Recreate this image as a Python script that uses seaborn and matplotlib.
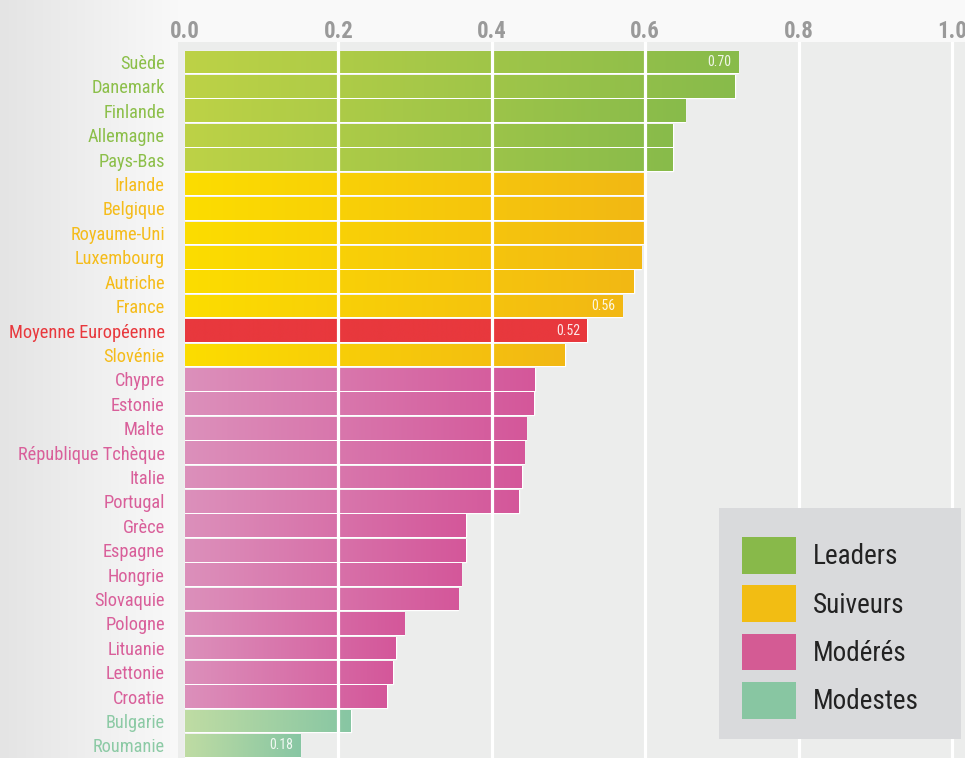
import numpy as np
import pandas as pd
import seaborn as sns
import matplotlib
matplotlib.use("Agg")
import matplotlib.pyplot as plt
from matplotlib import font_manager as fm
from matplotlib.colors import to_rgb
from matplotlib.patches import Patch, Rectangle

# ---------------- data ----------------
countries = ["Suède", "Danemark", "Finlande", "Allemagne", "Pays-Bas", "Irlande",
             "Belgique", "Royaume-Uni", "Luxembourg", "Autriche", "France",
             "Moyenne Européenne", "Slovénie", "Chypre", "Estonie", "Malte",
             "République Tchèque", "Italie", "Portugal", "Grèce", "Espagne",
             "Hongrie", "Slovaquie", "Pologne", "Lituanie", "Lettonie", "Croatie",
             "Bulgarie", "Roumanie"]
scores = [0.721, 0.717, 0.652, 0.636, 0.636, 0.598, 0.598, 0.598, 0.595, 0.585,
          0.570, 0.524, 0.495, 0.456, 0.455, 0.445, 0.442, 0.439, 0.435, 0.366,
          0.366, 0.360, 0.356, 0.286, 0.275, 0.271, 0.263, 0.216, 0.150]
groups = ["Leaders"] * 5 + ["Suiveurs"] * 6 + ["Moyenne"] + ["Suiveurs"] + \
         ["Modérés"] * 14 + ["Modestes"] * 2
value_labels = ["0.70"] + [""] * 9 + ["0.56", "0.52"] + [""] * 16 + ["0.18"]
legend_groups = ["Leaders", "Suiveurs", "Modérés", "Modestes"]
x_ticks = [0.0, 0.2, 0.4, 0.6, 0.8, 1.0]

# ---------------- style ----------------
legend_colors = {"Leaders": "#88b94a", "Suiveurs": "#f2bd13",
                 "Modérés": "#d45b94", "Modestes": "#88c6a2", "Moyenne": "#e8383d"}
grad_colors = {"Leaders": ("#bdd246", "#88bb4b"),
               "Suiveurs": ("#fcdd00", "#f2b814"),
               "Modérés": ("#dc90bb", "#d4579a"),
               "Modestes": ("#bfdca3", "#87c6a3"),
               "Moyenne": ("#e8383d", "#e8383d")}
label_colors = {"Leaders": "#8cbf4a", "Suiveurs": "#f5bc1a", "Modérés": "#d95f9a",
                "Modestes": "#8ccaa5", "Moyenne": "#e8383d"}

names = {f.name for f in fm.fontManager.ttflist}
if "Liberation Sans Narrow" in names:
    FAM = ["Liberation Sans Narrow", "DejaVu Sans"]
    STRETCH = "normal"
elif "Roboto Condensed" in names:
    FAM = ["Roboto Condensed", "DejaVu Sans"]
    STRETCH = "normal"
else:
    FAM = ["DejaVu Sans"]
    STRETCH = "condensed"

sns.set_theme(style="white")
plt.rcParams["font.family"] = FAM
plt.rcParams["font.stretch"] = STRETCH

W, H = 965, 758
fig = plt.figure(figsize=(W / 100, H / 100), dpi=100)

# background gradient (left label area)
bg = fig.add_axes([0, 0, 1, 1], zorder=-10)
cols = np.arange(W)
t = np.clip(cols / 178.0, 0, 1)
c0, c1 = np.array(to_rgb("#e4e4e4")), np.array(to_rgb("#f9f9f9"))
row = c0[None, :] * (1 - t[:, None]) + c1[None, :] * t[:, None]
bg.imshow(row[None, :, :], aspect="auto", extent=(0, 1, 0, 1))
bg.set_axis_off()

# main axes
ax_left, ax_top = 178, 42
ax = fig.add_axes([ax_left / W, 0, 1 - ax_left / W, 1 - ax_top / H])
ax.set_facecolor("#ecedec")

df = pd.DataFrame({"pays": countries, "score": scores, "groupe": groups})
sns.barplot(data=df, x="score", y="pays", hue="groupe",
            palette={g: grad_colors[g][1] for g in grad_colors},
            dodge=False, width=0.93, orient="h", legend=False, ax=ax,
            order=countries)

# per-bar horizontal gradient
for p in list(ax.patches):
    w = p.get_width()
    if not np.isfinite(w) or w <= 0:
        continue
    yc = p.get_y() + p.get_height() / 2
    i = int(round(yc))
    g = groups[i]
    a, b = np.array(to_rgb(grad_colors[g][0])), np.array(to_rgb(grad_colors[g][1]))
    tt = np.linspace(0, 1, 256)[:, None]
    img = (a * (1 - tt) + b * tt)[None, :, :]
    im = ax.imshow(img, aspect="auto", interpolation="bilinear",
                   extent=(p.get_x(), p.get_x() + w, p.get_y() + p.get_height(), p.get_y()),
                   zorder=2.2)
    im.set_clip_path(p)

# value labels
for i, (s, lab) in enumerate(zip(scores, value_labels)):
    if lab:
        ax.text(s - 0.009, i, lab, ha="right", va="center", color="white",
                alpha=0.88, fontsize=10, zorder=4)

# white gridlines on top
ax.vlines([v for v in x_ticks if v > 0], -1, len(countries) + 1,
          colors="white", linewidth=2.3, zorder=3)

scale = 767.0
ax.set_xlim(-7 / scale, (W - 185) / scale)
pitch = 24.4
ax.set_ylim(28 + (758 - 745.5) / pitch, -(62 - 42) / pitch)

ax.xaxis.tick_top()
ax.set_xticks(x_ticks)
ax.set_xticklabels([f"{v:.1f}" for v in x_ticks], color="#9a9a9a",
                   fontweight="bold", fontsize=16.5)
ax.tick_params(axis="x", length=0, pad=-0.5)
ax.tick_params(axis="y", length=0, pad=9.5)
ax.set_xlabel("")
ax.set_ylabel("")
for lab, g in zip(ax.get_yticklabels(), groups):
    lab.set_color(label_colors[g])
    lab.set_fontsize(13.2)
for sp in ax.spines.values():
    sp.set_visible(False)
ax.grid(False)

# legend box
aw, ah = W - ax_left, H - ax_top
ax.add_patch(Rectangle(((719 - ax_left) / aw, (758 - 739) / ah), 242 / aw, 231 / ah,
                       transform=ax.transAxes, facecolor="#d9dadc",
                       edgecolor="none", zorder=5))
handles = [Patch(facecolor=legend_colors[g], edgecolor="none", label=g)
           for g in legend_groups]
leg = ax.legend(handles=handles, loc="upper left",
                bbox_to_anchor=((742 - ax_left) / aw, (758 - 537) / ah),
                bbox_transform=ax.transAxes, frameon=False, borderpad=0,
                borderaxespad=0, fontsize=19.5, handlelength=2.0,
                handleheight=1.72, labelspacing=0.42, handletextpad=0.62)
leg.set_zorder(6)
for txt in leg.get_texts():
    txt.set_color("#222222")

fig.savefig("out.png", dpi=100)
